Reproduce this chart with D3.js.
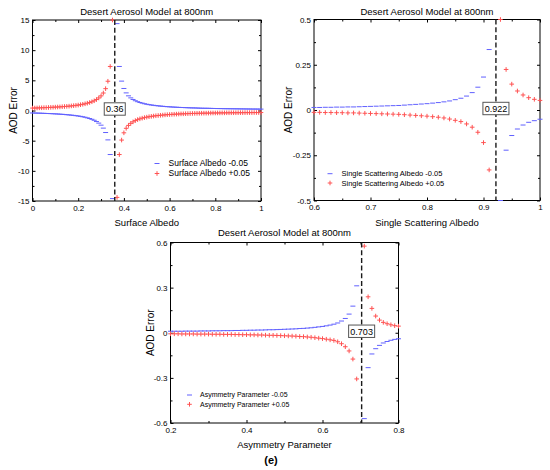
<!DOCTYPE html>
<html><head><meta charset="utf-8">
<script src="https://cdn.jsdelivr.net/npm/d3@7"></script>
<style>
body{margin:0;background:#fff}
svg{display:block}
text{font-family:"Liberation Sans",Arial,Helvetica,sans-serif;fill:#000}
</style>
</head><body>
<svg id="chart" width="550" height="470"></svg>
<script>
// ---------- DATA ----------
// Panel (a): Surface Albedo, x = 0.00 .. 1.00 step 0.01 (gap at 0.36)
const albedoX = d3.range(101).map(i => +(i * 0.01).toFixed(2));
const albedoMinus = [
 -0.41,-0.42,-0.43,-0.44,-0.46,-0.47,-0.49,-0.50,-0.52,-0.54,
 -0.56,-0.58,-0.61,-0.63,-0.66,-0.70,-0.73,-0.77,-0.81,-0.86,
 -0.91,-0.97,-1.04,-1.12,-1.22,-1.33,-1.46,-1.62,-1.83,-2.09,
 -2.43,-2.92,-3.65,-4.87,-7.30,-14.6,
 null,
 14.4,7.3,4.87,3.65,2.92,2.43,2.09,1.83,1.62,1.46,
 1.33,1.22,1.12,1.04,0.97,0.91,0.86,0.81,0.77,0.73,
 0.70,0.66,0.63,0.61,0.58,0.56,0.54,0.52,0.50,0.49,
 0.47,0.46,0.44,0.43,0.42,0.41,0.39,0.38,0.37,0.37,
 0.36,0.35,0.34,0.33,0.32,0.32,0.31,0.30,0.30,0.29,
 0.29,0.28,0.28,0.27,0.27,0.26,0.26,0.25,0.25,0.24,
 0.24,0.24,0.23,0.23
];
const albedoPlus = [
 0.40,0.41,0.42,0.44,0.45,0.47,0.48,0.50,0.52,0.54,
 0.56,0.58,0.60,0.63,0.66,0.69,0.72,0.76,0.80,0.85,
 0.90,0.96,1.03,1.11,1.21,1.32,1.45,1.61,1.82,2.08,
 2.42,2.90,3.62,4.85,7.30,15.0,
 null,
 -14.4,-7.3,-4.9,-3.7,-2.95,-2.47,-2.13,-1.88,-1.67,-1.51,
 -1.38,-1.27,-1.18,-1.10,-1.03,-0.97,-0.92,-0.87,-0.83,-0.79,
 -0.76,-0.72,-0.69,-0.67,-0.64,-0.62,-0.60,-0.58,-0.56,-0.55,
 -0.53,-0.52,-0.50,-0.49,-0.48,-0.47,-0.46,-0.45,-0.44,-0.44,
 -0.43,-0.42,-0.41,-0.41,-0.40,-0.40,-0.39,-0.39,-0.38,-0.38,
 -0.37,-0.37,-0.37,-0.36,-0.36,-0.36,-0.35,-0.35,-0.35,-0.35,
 -0.34,-0.34,-0.34,-0.34
];

// Panel (b): Single Scattering Albedo, x = 0.60 .. 1.00 step 0.01 (gap at 0.92)
const ssaX = d3.range(41).map(i => +(0.6 + i * 0.01).toFixed(2));
const ssaMinus = [
 0.014,0.014,0.015,0.015,0.016,0.016,0.017,0.017,0.018,0.019,
 0.020,0.021,0.022,0.023,0.024,0.025,0.027,0.029,0.031,0.033,
 0.035,0.038,0.041,0.045,0.050,0.057,0.065,0.077,0.096,0.126,
 0.182,0.334,
 null,
 -0.5,-0.222,-0.141,-0.105,-0.083,-0.068,-0.059,-0.051
];
const ssaPlus = [
 -0.013,-0.013,-0.014,-0.014,-0.015,-0.015,-0.016,-0.016,-0.017,-0.018,
 -0.019,-0.020,-0.021,-0.022,-0.023,-0.024,-0.026,-0.028,-0.030,-0.032,
 -0.034,-0.037,-0.040,-0.044,-0.050,-0.057,-0.064,-0.077,-0.095,-0.123,
 -0.180,-0.331,
 null,
 0.5,0.224,0.143,0.105,0.083,0.068,0.059,0.053
];

// Panel (e): Asymmetry Parameter, x = 0.20 .. 0.80 step 0.01 (gap at 0.70)
const asymX = d3.range(61).map(i => +(0.2 + i * 0.01).toFixed(2));
const asymMinus = [
 0.010,0.010,0.010,0.010,0.011,0.011,0.011,0.011,0.012,0.012,
 0.012,0.013,0.013,0.013,0.014,0.014,0.014,0.015,0.015,0.016,
 0.016,0.017,0.017,0.018,0.018,0.019,0.020,0.020,0.021,0.022,
 0.023,0.024,0.025,0.026,0.028,0.029,0.031,0.033,0.036,0.039,
 0.042,0.046,0.051,0.057,0.065,0.078,0.095,0.124,0.177,0.312,
 null,
 -0.571,-0.232,-0.141,-0.106,-0.084,-0.068,-0.058,-0.050,-0.044,-0.040
];
const asymPlus = [
 -0.007,-0.007,-0.007,-0.008,-0.008,-0.008,-0.008,-0.009,-0.009,-0.009,
 -0.009,-0.010,-0.010,-0.010,-0.011,-0.011,-0.011,-0.012,-0.012,-0.013,
 -0.013,-0.014,-0.014,-0.015,-0.015,-0.016,-0.017,-0.017,-0.018,-0.019,
 -0.020,-0.021,-0.022,-0.023,-0.025,-0.026,-0.028,-0.030,-0.033,-0.036,
 -0.039,-0.043,-0.047,-0.051,-0.060,-0.073,-0.093,-0.121,-0.175,-0.307,
 null,
 0.576,0.239,0.162,0.111,0.084,0.069,0.060,0.053,0.047,0.044
];

// Tick values
const albedoXTicks = [0,0.2,0.4,0.6,0.8,1];
const albedoXMinor = [0.1,0.3,0.5,0.7,0.9];
const albedoYTicks = [-15,-10,-5,0,5,10,15];
const albedoYMinor = [-12.5,-7.5,-2.5,2.5,7.5,12.5];
const ssaXTicks = [0.6,0.7,0.8,0.9,1];
const ssaXMinor = [0.65,0.75,0.85,0.95];
const ssaYTicks = [-0.5,-0.25,0,0.25,0.5];
const ssaYMinor = [-0.375,-0.125,0.125,0.375];
const asymXTicks = [0.2,0.4,0.6,0.8];
const asymXMinor = [0.3,0.5,0.7];
const asymYTicks = [-0.6,-0.3,0,0.3,0.6];
const asymYMinor = [-0.45,-0.15,0.15,0.45];

const titleText = "Desert Aerosol Model at 800nm";
const yLabelText = "AOD Error";

// ---------- LAYOUT / STYLE ----------
const BLUE = "#6060ff", RED = "#ff5252";
const panels = [
 {xs: albedoX, minus: albedoMinus, plus: albedoPlus, xd:[0,1], yd:[-15,15],
  xr:[32.5,261], yr:[201,20], xT: albedoXTicks, xM: albedoXMinor, yT: albedoYTicks, yM: albedoYMinor,
  crit: 0.36, critLabel: "0.36", xlabel: "Surface Albedo", xlabelY: 226, ylabX: 13, titleY: 14.5,
  leg: {mx:157, tx:168.5, y1:163.5, y2:173.5, fs:8.5, names:["Surface Albedo -0.05","Surface Albedo +0.05"]}},
 {xs: ssaX, minus: ssaMinus, plus: ssaPlus, xd:[0.6,1], yd:[-0.5,0.5],
  xr:[314,540], yr:[200.5,19.5], xT: ssaXTicks, xM: ssaXMinor, yT: ssaYTicks, yM: ssaYMinor,
  crit: 0.922, critLabel: "0.922", xlabel: "Single Scattering Albedo", xlabelY: 226, ylabX: 288, titleY: 14.5,
  leg: {mx:330, tx:341.5, y1:173.7, y2:183, fs:7.5, names:["Single Scattering Albedo -0.05","Single Scattering Albedo +0.05"]}},
 {xs: asymX, minus: asymMinus, plus: asymPlus, xd:[0.2,0.8], yd:[-0.6,0.6],
  xr:[170.5,398.5], yr:[423,242.5], xT: asymXTicks, xM: asymXMinor, yT: asymYTicks, yM: asymYMinor,
  crit: 0.703, critLabel: "0.703", xlabel: "Asymmetry Parameter", xlabelY: 448, ylabX: 150, titleY: 235.5,
  leg: {mx:189.5, tx:200, y1:395, y2:404.3, fs:7, names:["Asymmetry Parameter -0.05","Asymmetry Parameter +0.05"]}}
];

const svg = d3.select("#chart");
svg.append("rect").attr("width",550).attr("height",470).attr("fill","#fff");

function dash(sel, cx, cy){ sel.append("line").attr("x1",cx-2.5).attr("x2",cx+2.5).attr("y1",cy).attr("y2",cy)
  .attr("stroke",BLUE).attr("stroke-width",1); }
function plus(sel, cx, cy){
  sel.append("line").attr("x1",cx-2.3).attr("x2",cx+2.3).attr("y1",cy).attr("y2",cy).attr("stroke",RED).attr("stroke-width",1);
  sel.append("line").attr("x1",cx).attr("x2",cx).attr("y1",cy-2.3).attr("y2",cy+2.3).attr("stroke",RED).attr("stroke-width",1);
}

panels.forEach(p => {
  const x = d3.scaleLinear().domain(p.xd).range(p.xr);
  const y = d3.scaleLinear().domain(p.yd).range(p.yr);
  const g = svg.append("g");
  const fmt = d => String(d);
  const [x0,x1] = p.xr, [y0,y1] = p.yr;

  // axes (ticks inward on all sides)
  const styleAxis = a => { a.select(".domain").remove(); a.selectAll("line").attr("stroke","#000");
    a.selectAll("text").attr("font-size","8px").attr("font-family","Liberation Sans, Arial, sans-serif").attr("fill","#000"); };
  g.append("g").attr("transform",`translate(0,${y0})`).call(d3.axisBottom(x).tickValues(p.xT).tickSize(-3).tickPadding(4).tickFormat(fmt)).call(styleAxis);
  g.append("g").attr("transform",`translate(0,${y0})`).call(d3.axisBottom(x).tickValues(p.xM).tickSize(-2).tickFormat("")).call(styleAxis);
  g.append("g").attr("transform",`translate(0,${y1})`).call(d3.axisTop(x).tickValues(p.xT).tickSize(-3).tickFormat("")).call(styleAxis);
  g.append("g").attr("transform",`translate(0,${y1})`).call(d3.axisTop(x).tickValues(p.xM).tickSize(-2).tickFormat("")).call(styleAxis);
  g.append("g").attr("transform",`translate(${x0},0)`).call(d3.axisLeft(y).tickValues(p.yT).tickSize(-3).tickPadding(3).tickFormat(fmt)).call(styleAxis);
  g.append("g").attr("transform",`translate(${x0},0)`).call(d3.axisLeft(y).tickValues(p.yM).tickSize(-2).tickFormat("")).call(styleAxis);
  g.append("g").attr("transform",`translate(${x1},0)`).call(d3.axisRight(y).tickValues(p.yT).tickSize(-3).tickFormat("")).call(styleAxis);
  g.append("g").attr("transform",`translate(${x1},0)`).call(d3.axisRight(y).tickValues(p.yM).tickSize(-2).tickFormat("")).call(styleAxis);
  g.append("rect").attr("x",x0).attr("y",y1).attr("width",x1-x0).attr("height",y0-y1)
    .attr("fill","none").attr("stroke","#000").attr("stroke-width",1);

  // markers
  const mg = g.append("g");
  p.xs.forEach((xv,i) => {
    if (p.minus[i] != null) dash(mg, x(xv), y(p.minus[i]));
  });
  p.xs.forEach((xv,i) => {
    if (p.plus[i] != null) plus(mg, x(xv), y(p.plus[i]));
  });

  // critical dashed line
  g.append("line").attr("x1",x(p.crit)).attr("x2",x(p.crit)).attr("y1",y1).attr("y2",y0)
    .attr("stroke","#1a1a1a").attr("stroke-width",1.4).attr("stroke-dasharray","5,2.7");

  // label box
  const cy = y(0) - 1.5;
  const bg = g.append("g");
  const br = bg.append("rect").attr("fill","#fff").attr("stroke","#555").attr("stroke-width",1);
  const t = bg.append("text").attr("x",x(p.crit)).attr("y",cy+3.3).attr("text-anchor","middle")
    .attr("font-size","9px").text(p.critLabel);
  const w = t.node().getComputedTextLength() + 3.5;
  br.attr("x",x(p.crit)-w/2).attr("y",cy-6.2).attr("width",w).attr("height",12.4);

  // title & axis labels
  g.append("text").attr("x",(x0+x1)/2).attr("y",p.titleY).attr("text-anchor","middle").attr("font-size","9.5px").text(titleText);
  g.append("text").attr("x",(x0+x1)/2).attr("y",p.xlabelY).attr("text-anchor","middle").attr("font-size","9.5px").text(p.xlabel);
  g.append("text").attr("transform",`translate(${p.ylabX},${(y0+y1)/2}) rotate(-90)`).attr("dy","0.35em")
    .attr("text-anchor","middle").attr("font-size","10px").text(yLabelText);

  // legend
  const L = p.leg;
  dash(g, L.mx, L.y1);
  plus(g, L.mx, L.y2);
  g.append("text").attr("x",L.tx).attr("y",L.y1).attr("dy","0.35em").attr("font-size",L.fs+"px").text(L.names[0]);
  g.append("text").attr("x",L.tx).attr("y",L.y2).attr("dy","0.35em").attr("font-size",L.fs+"px").text(L.names[1]);
});

svg.append("text").attr("x",271).attr("y",463.5).attr("text-anchor","middle")
  .attr("font-family","Liberation Serif, Times New Roman, serif").attr("font-weight","bold").attr("font-size","11px").text("(e)");
</script>
</body></html>
